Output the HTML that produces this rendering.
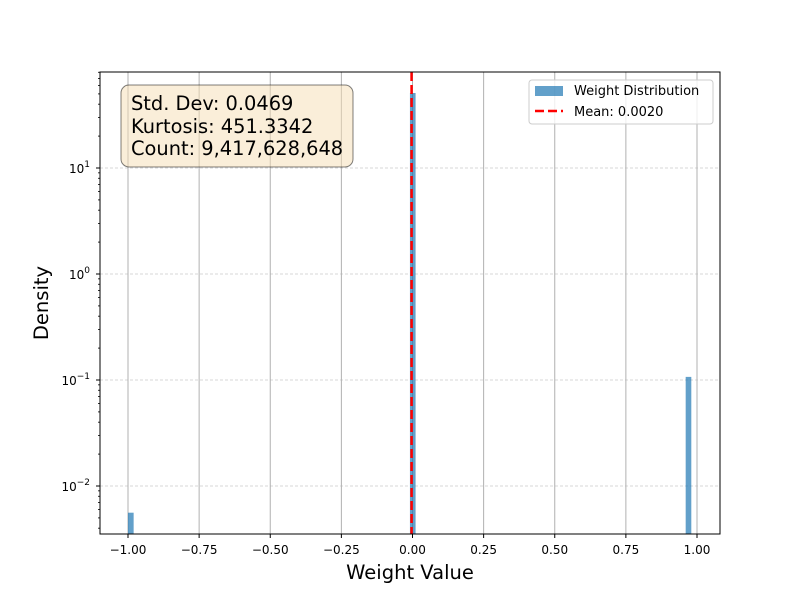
<!DOCTYPE html>
<html><head><meta charset="utf-8"><style>
body{margin:0;background:#fff}
svg{display:block;font-family:"DejaVu Sans","Liberation Sans",sans-serif}
</style></head><body>
<svg id="chart" width="800" height="600">
<rect width="800" height="600" fill="#fff"/>
<g id="grid"></g>
<g id="bars"></g>
<g id="meanline"></g>
<rect x="100" y="72" width="620" height="462" fill="none" stroke="#000" stroke-width="1"/>
<g id="axes"></g>
<text x="410" y="579" font-size="19.5" text-anchor="middle">Weight Value</text>
<text x="48" y="303" font-size="19.5" text-anchor="middle" transform="rotate(-90 48 303)">Density</text>
<g>
<rect x="121" y="85" width="232" height="82" rx="8" fill="#f5deb3" fill-opacity="0.5" stroke="#000" stroke-opacity="0.5"/>
<text x="131" y="110" font-size="19.4">Std. Dev: 0.0469</text>
<text x="131" y="133" font-size="19.4">Kurtosis: 451.3342</text>
<text x="131" y="155" font-size="19.4">Count: 9,417,628,648</text>
</g>
<g>
<rect x="529" y="80" width="184" height="44" rx="3" fill="#fff" fill-opacity="0.8" stroke="#ccc"/>
<rect x="535" y="86" width="28" height="10" fill="#1f77b4" fill-opacity="0.7"/>
<text x="574" y="95" font-size="13">Weight Distribution</text>
<line x1="535" y1="111" x2="563" y2="111" stroke="red" stroke-width="2.5" stroke-dasharray="9,4"/>
<text x="574" y="116" font-size="13">Mean: 0.0020</text>
</g>
</svg>
<script>
const binLefts = [-1.0, -0.0090, 0.9602];
const binWidth = 0.0198;
const densities = [0.0056, 51, 0.107];
const meanValue = 0.002;
const xTicks = [-1, -0.75, -0.5, -0.25, 0, 0.25, 0.5, 0.75, 1];
const xTickLabels = ["\u22121.00","\u22120.75","\u22120.50","\u22120.25","0.00","0.25","0.50","0.75","1.00"];
const yDecades = [-2, -1, 0, 1];

const NS = "http://www.w3.org/2000/svg";
const xs = v => 412.5 + v * 284.5;
const ys = v => 380 - (Math.log10(v) + 1) * 106;
function mk(tag, attrs, parent){const e=document.createElementNS(NS,tag);for(const k in attrs)e.setAttribute(k,attrs[k]);parent.appendChild(e);return e;}
const grid=document.getElementById('grid'), bars=document.getElementById('bars'), axes=document.getElementById('axes'), ml=document.getElementById('meanline');

xTicks.forEach((t,i)=>{
  const x=xs(t);
  const g=mk('line',{x1:x,x2:x,y1:72,y2:534,stroke:'#b0b0b0','stroke-width':1},grid);
  
  
  mk('line',{x1:x,x2:x,y1:534,y2:538,stroke:'#000'},axes);
  const tx=mk('text',{x:x,y:554,'font-size':12,'text-anchor':'middle'},axes);
  tx.textContent=xTickLabels[i];
  
  
});
yDecades.forEach(d=>{
  const y=ys(Math.pow(10,d));
  const g=mk('line',{x1:100,x2:720,y1:y,y2:y,stroke:'#b0b0b0','stroke-width':0.6,'stroke-dasharray':'3,2'},grid);
  
  
  mk('line',{x1:96,x2:100,y1:y,y2:y,stroke:'#000'},axes);
  const tx=mk('text',{x:90,y:y+5,'font-size':12,'text-anchor':'end'},axes);
  tx.textContent='10';
  mk('tspan',{dy:-6,'font-size':9},tx).textContent=String(d).replace('-','\u2212');
  
  
});
for(let d=-3; d<=1; d++){
  for(let m=2;m<=9;m++){
    const y=ys(m*Math.pow(10,d));
    if(y<72||y>534) continue;
    mk('line',{x1:98,x2:100,y1:y,y2:y,stroke:'#000','stroke-width':0.8},axes);
  }
}
binLefts.forEach((b,i)=>{
  const x0=xs(b), x1=xs(b+binWidth), y=Math.max(ys(densities[i]),72);
  const r=mk('rect',{x:x0,y:y,width:x1-x0,height:534-y,fill:'#1f77b4','fill-opacity':0.7},bars);
  
  
});
const mx=xs(meanValue)-1.5;
const l=mk('line',{x1:mx,x2:mx,y1:72,y2:534,stroke:'red','stroke-width':2.5,'stroke-dasharray':'9,4'},ml);


</script>
</body></html>
